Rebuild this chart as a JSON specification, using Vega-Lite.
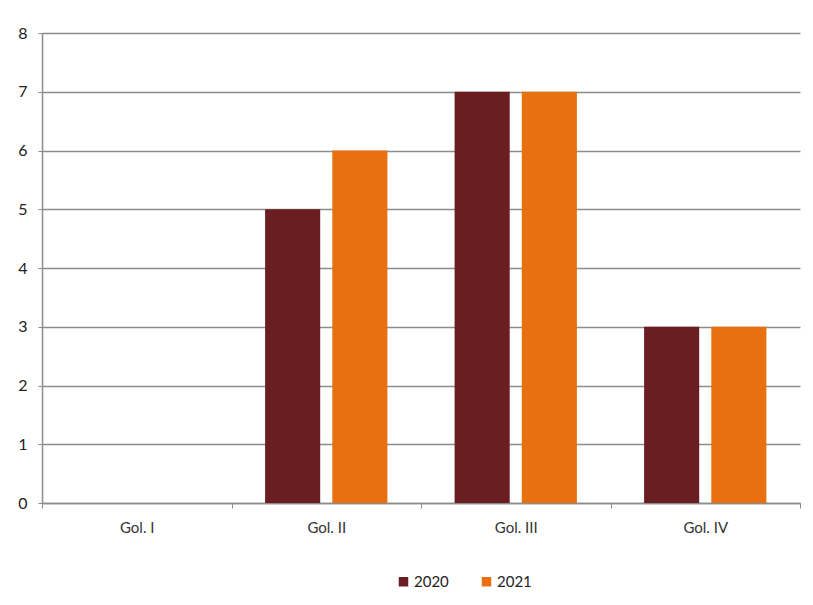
{
  "$schema": "https://vega.github.io/schema/vega-lite/v6.json",
  "autosize": "none",
  "width": 758,
  "height": 470,
  "padding": {"left": 42, "top": 33, "right": 13, "bottom": 102},
  "background": "white",
  "data": {
    "values": [
      {"golongan": "Gol. I", "tahun": "2020", "jumlah": 0},
      {"golongan": "Gol. I", "tahun": "2021", "jumlah": 0},
      {"golongan": "Gol. II", "tahun": "2020", "jumlah": 5},
      {"golongan": "Gol. II", "tahun": "2021", "jumlah": 6},
      {"golongan": "Gol. III", "tahun": "2020", "jumlah": 7},
      {"golongan": "Gol. III", "tahun": "2021", "jumlah": 7},
      {"golongan": "Gol. IV", "tahun": "2020", "jumlah": 3},
      {"golongan": "Gol. IV", "tahun": "2021", "jumlah": 3}
    ]
  },
  "mark": {"type": "bar"},
  "encoding": {
    "x": {
      "field": "golongan",
      "type": "nominal",
      "sort": ["Gol. I", "Gol. II", "Gol. III", "Gol. IV"],
      "scale": {"paddingInner": 0, "paddingOuter": 0},
      "axis": {
        "title": null,
        "labelAngle": 0,
        "tickBand": "extent",
        "tickSize": 5,
        "tickColor": "#8c8c8c",
        "domainColor": "#8c8c8c",
        "domainWidth": 1.5,
        "labelPadding": 12,
        "labelFont": "Lato",
        "labelFontSize": 15,
        "labelColor": "#333333"
      }
    },
    "xOffset": {
      "field": "tahun",
      "type": "nominal",
      "scale": {"paddingInner": 0.18, "paddingOuter": 0.5}
    },
    "y": {
      "field": "jumlah",
      "type": "quantitative",
      "scale": {"domain": [0, 8], "nice": false},
      "axis": {
        "title": null,
        "values": [0, 1, 2, 3, 4, 5, 6, 7, 8],
        "labelOverlap": false,
        "tickSize": 4,
        "tickColor": "#8c8c8c",
        "domainColor": "#8c8c8c",
        "domainWidth": 1.5,
        "gridColor": "#8c8c8c",
        "gridWidth": 1.5,
        "labelPadding": 11,
        "labelFont": "Lato",
        "labelFontSize": 16,
        "labelColor": "#222222"
      }
    },
    "color": {
      "field": "tahun",
      "type": "nominal",
      "scale": {"domain": ["2020", "2021"], "range": ["#6b1e22", "#e8700f"]},
      "legend": {
        "title": null,
        "orient": "none",
        "legendX": 354,
        "legendY": 541,
        "direction": "horizontal",
        "symbolType": "square",
        "symbolSize": 90,
        "symbolStrokeWidth": 0,
        "columnPadding": 30,
        "labelFont": "Lato",
        "labelFontSize": 15,
        "labelColor": "#222222",
        "labelOffset": 3
      }
    }
  },
  "config": {
    "view": {"stroke": null}
  }
}
